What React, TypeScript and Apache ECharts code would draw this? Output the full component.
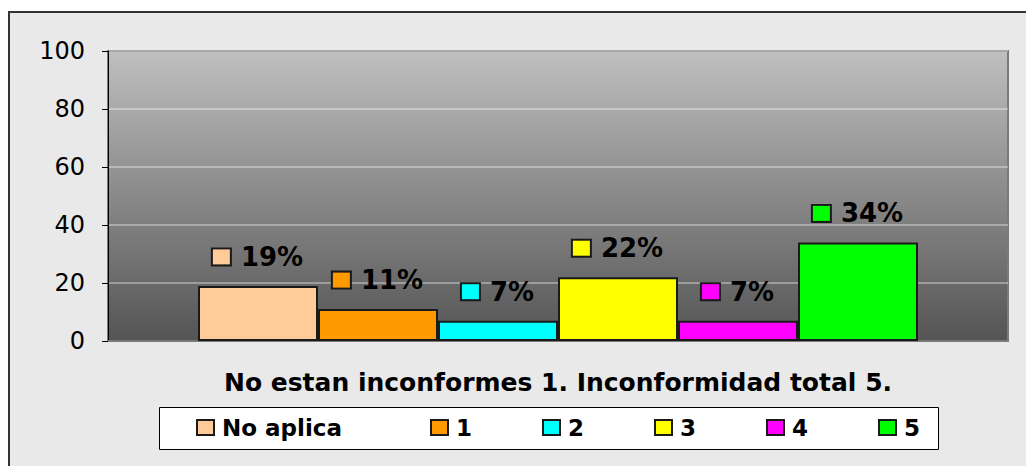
import React, { useEffect, useRef } from "react";
import * as echarts from "echarts";

const categories = ["No estan inconformes 1. Inconformidad total 5."];
const seriesNames = ["No aplica", "1", "2", "3", "4", "5"];
const seriesValues = [19, 11, 7, 22, 7, 34];
const seriesColors = ["#FFCC99", "#FF9900", "#00FFFF", "#FFFF00", "#FF00FF", "#00FF00"];
const yTicks = { min: 0, max: 100, interval: 20 };
const xTitle = "No estan inconformes 1. Inconformidad total 5.";

const FONT = "DejaVu Sans";

export default function App() {
  const ref = useRef<HTMLDivElement>(null);
  useEffect(() => {
    if (!ref.current) return;
    const chart = echarts.init(ref.current, null, { renderer: "svg" });
    const series = seriesNames.map((name, i) => ({
      name,
      type: "bar",
      data: [seriesValues[i]],
      barGap: "0%",
      barCategoryGap: "20%",
      itemStyle: { color: seriesColors[i], borderColor: "#1a1a1a", borderWidth: 2 },
      label: {
        show: true,
        position: "top",
        distance: 14,
        formatter: (p: any) => `{k|}{v|${p.value}%}`,
        rich: {
          k: {
            width: 17,
            height: 15,
            backgroundColor: seriesColors[i],
            borderColor: "#1a1a1a",
            borderWidth: 2,
          },
          v: {
            fontFamily: FONT,
            fontWeight: "bold",
            fontSize: 26,
            color: "#000",
            padding: [0, 0, 0, 11],
            lineHeight: 30,
          },
        },
      },
    }));
    const legendBase = {
      orient: "horizontal",
      top: 403,
      padding: 0,
      itemWidth: 17,
      itemHeight: 15,
      itemGap: 70,
      icon: "rect",
      textStyle: {
        fontFamily: FONT,
        fontWeight: "bold",
        fontSize: 23,
        color: "#000",
        padding: [0, 0, 0, 3],
      },
    };
    chart.setOption({
      animation: false,
      backgroundColor: "transparent",
      grid: {
        left: 98,
        top: 38,
        right: 18,
        bottom: 125,
        show: true,
        backgroundColor: new echarts.graphic.LinearGradient(0, 0, 0, 1, [
          { offset: 0, color: "#bfbfbf" },
          { offset: 1, color: "#545454" },
        ]),
        borderColor: "#7a7a7a",
        borderWidth: 2,
      },
      graphic: [
        {
          type: "rect",
          left: 149,
          top: 394,
          z: 0,
          shape: { width: 779, height: 42 },
          style: { fill: "#ffffff", stroke: "#000", lineWidth: 1 },
        },
      ],
      xAxis: {
        type: "category",
        data: categories,
        name: xTitle,
        nameLocation: "middle",
        nameGap: 29,
        nameTextStyle: { fontFamily: FONT, fontWeight: "bold", fontSize: 25, color: "#000" },
        axisLine: { show: true, lineStyle: { color: "#7a7a7a", width: 2 } },
        axisTick: { show: false },
        axisLabel: { show: false },
      },
      yAxis: {
        type: "value",
        min: yTicks.min,
        max: yTicks.max,
        interval: yTicks.interval,
        axisLine: { show: true, lineStyle: { color: "#000", width: 1 } },
        axisTick: { show: true, length: 6, lineStyle: { color: "#000" } },
        axisLabel: { fontFamily: FONT, fontSize: 24, color: "#000", margin: 23 },
        splitLine: { show: true, lineStyle: { color: "rgba(255,255,255,0.35)", width: 2 } },
      },
      legend: [
        { ...legendBase, left: 186, data: [seriesNames[0]] },
        { ...legendBase, left: 420, data: seriesNames.slice(1) },
      ],
      series,
    });
    return () => chart.dispose();
  }, []);
  return (
    <div
      style={{
        position: "absolute",
        left: 8,
        top: 11,
        width: 1018,
        height: 455,
        borderTop: "2px solid #333",
        borderLeft: "2px solid #333",
        background: "#e9e9e9",
        overflow: "hidden",
      }}
    >
      <div ref={ref} style={{ width: 1016, height: 453 }} />
    </div>
  );
}
